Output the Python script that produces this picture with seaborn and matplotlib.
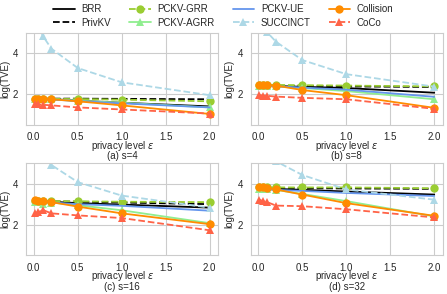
import numpy as np
import pandas as pd
import matplotlib
matplotlib.use('Agg')
import matplotlib.pyplot as plt
import seaborn as sns

# privacy levels and panels
eps = [0.01, 0.05, 0.1, 0.2, 0.5, 1.0, 2.0]
panels = ['(a) s=4', '(b) s=8', '(c) s=16', '(d) s=32']

# log(TVE), one row per panel
brr = [[1.78, 1.78, 1.78, 1.76, 1.68, 1.58, 1.40],
       [2.42, 2.42, 2.42, 2.40, 2.36, 2.30, 2.07],
       [3.15, 3.15, 3.14, 3.12, 3.05, 2.98, 2.83],
       [3.78, 3.78, 3.77, 3.75, 3.70, 3.62, 3.47]]
privkv = [[1.78, 1.78, 1.78, 1.78, 1.78, 1.77, 1.75],
          [2.42, 2.42, 2.42, 2.41, 2.40, 2.38, 2.35],
          [3.15, 3.15, 3.15, 3.14, 3.12, 3.08, 3.00],
          [3.80, 3.80, 3.80, 3.79, 3.78, 3.77, 3.75]]
pckv_grr = [[1.78, 1.78, 1.78, 1.77, 1.76, 1.73, 1.65],
            [2.45, 2.45, 2.45, 2.45, 2.44, 2.42, 2.38],
            [3.15, 3.15, 3.15, 3.15, 3.14, 3.12, 3.10],
            [3.82, 3.82, 3.82, 3.82, 3.82, 3.82, 3.78]]
pckv_agrr = [[1.75, 1.75, 1.75, 1.74, 1.68, 1.58, 1.35],
             [2.40, 2.40, 2.40, 2.38, 2.30, 2.15, 1.75],
             [3.10, 3.10, 3.00, 3.08, 2.95, 2.70, 2.07],
             [3.75, 3.75, 3.74, 3.70, 3.50, 3.15, 2.40]]
pckv_ue = [[1.76, 1.76, 1.76, 1.74, 1.66, 1.55, 1.35],
           [2.40, 2.40, 2.40, 2.38, 2.32, 2.22, 1.87],
           [3.10, 3.10, 3.10, 3.08, 3.00, 2.92, 2.68],
           [3.72, 3.72, 3.72, 3.70, 3.65, 3.55, 3.40]]
succinct = [[6.5, 5.6, 4.87, 4.23, 3.28, 2.58, 1.95],
            [7.0, 6.0, 5.03, 4.57, 3.67, 2.98, 2.37],
            [7.5, 6.5, 5.6, 4.92, 4.08, 3.42, 2.83],
            [8.0, 7.0, 6.0, 5.10, 4.43, 3.72, 3.22]]
collision = [[1.78, 1.78, 1.78, 1.75, 1.65, 1.45, 1.03],
             [2.45, 2.45, 2.44, 2.42, 2.20, 1.95, 1.33],
             [3.18, 3.17, 3.15, 3.10, 2.88, 2.55, 2.02],
             [3.83, 3.82, 3.80, 3.72, 3.47, 3.05, 2.43]]
coco = [[1.50, 1.50, 1.48, 1.45, 1.35, 1.25, 1.05],
        [1.95, 1.93, 1.92, 1.88, 1.82, 1.75, 1.28],
        [2.58, 2.60, 2.72, 2.55, 2.45, 2.32, 1.72],
        [3.22, 3.15, 3.10, 2.93, 2.90, 2.75, 2.35]]

methods = ['BRR', 'PrivKV', 'PCKV-GRR', 'PCKV-AGRR', 'PCKV-UE', 'SUCCINCT', 'Collision', 'CoCo']
values = [brr, privkv, pckv_grr, pckv_agrr, pckv_ue, succinct, collision, coco]
colors = ['black', 'black', 'yellowgreen', 'lightgreen', 'cornflowerblue', 'lightblue', 'darkorange', 'tomato']
styles = ['-', '--', '--', '-', '-', '--', '-', '--']
markers = [None, None, 'o', '^', None, '^', 'o', '^']

sns.set_style('whitegrid')
plt.rcParams['font.family'] = ['Liberation Sans', 'DejaVu Sans']
plt.rcParams['font.size'] = 7

fig, axes = plt.subplots(2, 2, figsize=(4.47, 2.94), dpi=100)
fig.subplots_adjust(left=0.058, right=0.991, top=0.888, bottom=0.132, wspace=0.167, hspace=0.42)

for i, ax in enumerate(axes.flat):
    for m, v, c, ls, mk in zip(methods, values, colors, styles, markers):
        df = pd.DataFrame({'eps': eps, 'tve': v[i]})
        sns.lineplot(data=df, x='eps', y='tve', ax=ax, color=c, linestyle=ls,
                     marker=mk, markersize=6, markeredgewidth=0, linewidth=1.3,
                     label=m, legend=False)
    ax.set_ylim(0.5, 5.0)
    ax.set_yticks([2, 4])
    ax.set_xticks([0.0, 0.5, 1.0, 1.5, 2.0])
    ax.set_xlabel('privacy level $\\epsilon$', fontsize=7)
    ax.xaxis.set_label_coords(0.5, -0.155)
    ax.set_ylabel('log(TVE)', fontsize=7, labelpad=2)
    ax.tick_params(labelsize=7, pad=2)
    # sub-caption under the x label
    ax.text(0.5, -0.345, panels[i], transform=ax.transAxes, ha='center', va='center',
            fontsize=7)

handles, labels = axes[0, 0].get_legend_handles_labels()
fig.legend(handles, labels, loc='upper center', ncol=4, frameon=False, fontsize=7,
           bbox_to_anchor=(0.5, 1.015), handlelength=2.2, handletextpad=0.7,
           columnspacing=1.85, labelspacing=0.35)

plt.savefig('out.png', dpi=100)
